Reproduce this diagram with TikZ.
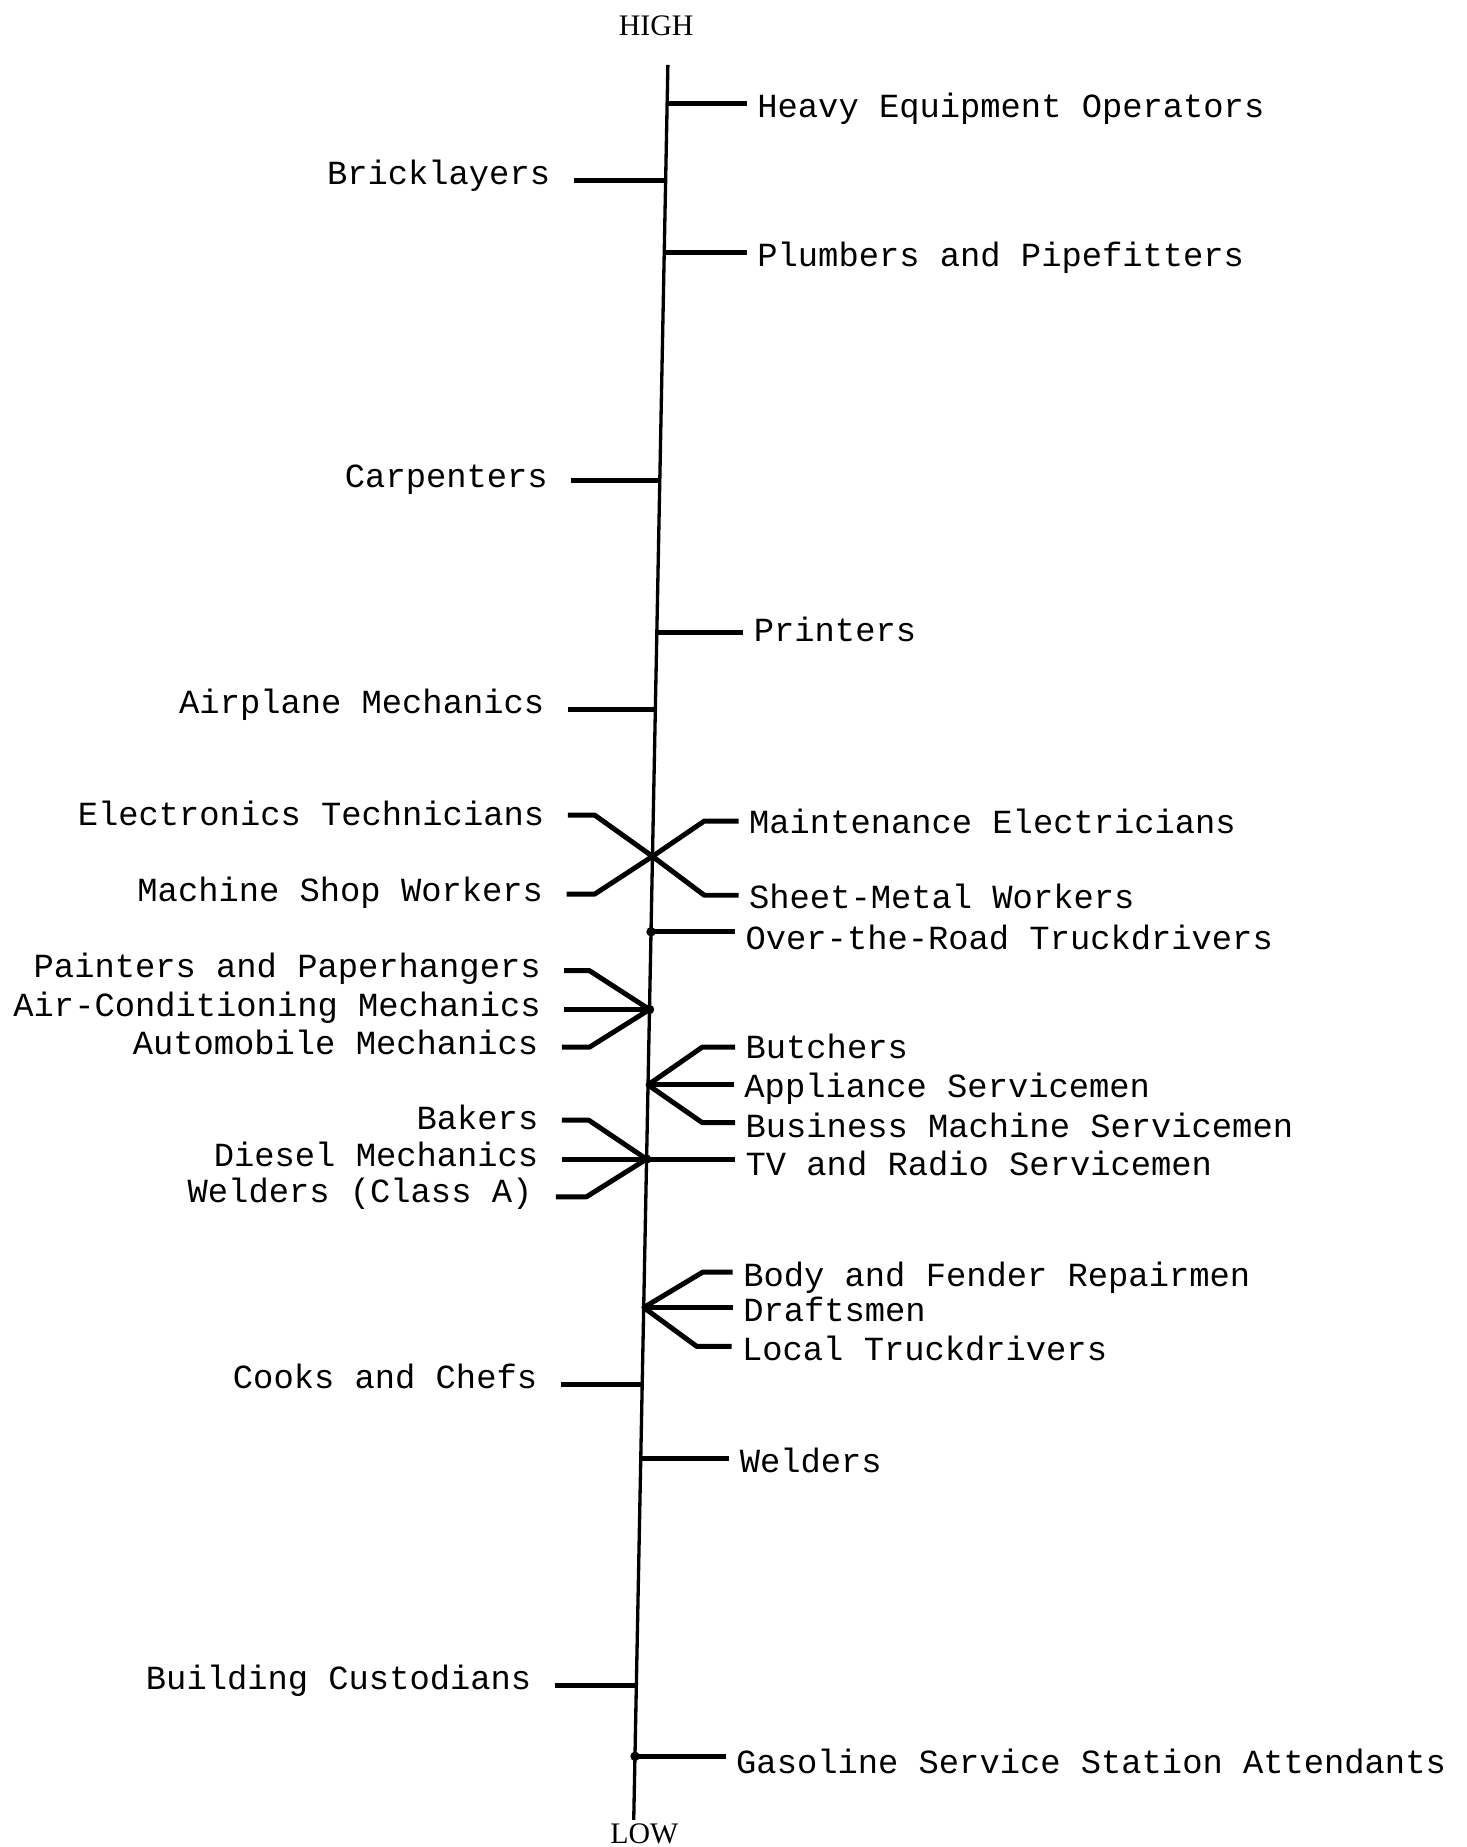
\documentclass[tikz,border=0pt]{standalone}
\usepackage{fontspec}
\setmonofont{Liberation Mono}
\newfontfamily\hlfont{Liberation Serif}
\usetikzlibrary{calc}
\begin{document}
\begin{tikzpicture}[x=0.025cm,y=-0.025cm,
  lab/.style={font=\fontsize{20.4}{24}\selectfont\ttfamily, inner sep=0pt},
  ll/.style={lab, anchor=base east, outer xsep=0.5cm, outer ysep=0pt},
  rl/.style={lab, anchor=base west, outer xsep=0.225cm, outer ysep=0pt},
  endlab/.style={font=\fontsize{18}{20}\selectfont\hlfont, inner sep=0pt},
  axisline/.style={line width=2pt},
  tick/.style={line width=3pt, line join=round},
  jdot/.style={fill=black, draw=none}]
\useasboundingbox (0,0) rectangle (1245,1568);

% ends of the scale
\node[endlab] (high) at (557,22) {HIGH};
\node[endlab] (low) at (547,1557) {LOW};
\coordinate (top) at (567,55);
\coordinate (bot) at (538,1545);
\draw[axisline] (top) -- (bot);

% points on the axis
\coordinate (aHeavy) at (566.4,88);
\coordinate (aBrick) at (565.1,153);
\coordinate (aPlumb) at (563.9,214);
\coordinate (aCarp)  at (560.1,408);
\coordinate (aPrint) at (557.6,537);
\coordinate (aAir)   at (556.4,602);
\coordinate (X)      at (553.9,727);
\coordinate (aOver)  at (552.7,791);
\coordinate (jPaint) at (551.4,857);
\coordinate (jButch) at (550.1,921);
\coordinate (jBak)   at (548.9,984);
\coordinate (jBody)  at (546.5,1110);
\coordinate (aCook)  at (545.2,1175);
\coordinate (aWeld)  at (544.0,1238);
\coordinate (aBuild) at (540.2,1431);
\coordinate (aGas)   at (539.1,1491);

% right labels
\node[rl] (heavy) at (634,100)  {Heavy Equipment Operators};
\node[rl] (plumb) at (634,226)  {Plumbers and Pipefitters};
\node[rl] (print) at (631,545)  {Printers};
\node[rl] (maint) at (627,708)  {Maintenance Electricians};
\node[rl] (sheet) at (627,771)  {Sheet-Metal Workers};
\node[rl] (over)  at (624,806)  {Over-the-Road Truckdrivers};
\node[rl] (butch) at (624,899)  {Butchers};
\node[rl] (appl)  at (623,932)  {Appliance Servicemen};
\node[rl] (busi)  at (624,966)  {Business Machine Servicemen};
\node[rl] (tv)    at (624,998)  {TV and Radio Servicemen};
\node[rl] (body)  at (622,1092) {Body and Fender Repairmen};
\node[rl] (draft) at (622,1122) {Draftsmen};
\node[rl] (local) at (621,1155) {Local Truckdrivers};
\node[rl] (weld)  at (619,1250) {Welders};
\node[rl] (gas)   at (616,1506) {Gasoline Service Station Attendants};

% left labels
\node[ll] (brick)  at (487,157)  {Bricklayers};
\node[ll] (carp)   at (485,414)  {Carpenters};
\node[ll] (air)    at (482,606)  {Airplane Mechanics};
\node[ll] (elec)   at (482,701)  {Electronics Technicians};
\node[ll] (mach)   at (481,765)  {Machine Shop Workers};
\node[ll] (paint)  at (479,830)  {Painters and Paperhangers};
\node[ll] (aircon) at (479,863)  {Air-Conditioning Mechanics};
\node[ll] (auto)   at (477,895)  {Automobile Mechanics};
\node[ll] (bak)    at (477,959)  {Bakers};
\node[ll] (dies)   at (477,990)  {Diesel Mechanics};
\node[ll] (weldA)  at (472,1021) {Welders (Class A)};
\node[ll] (cook)   at (476,1179) {Cooks and Chefs};
\node[ll] (build)  at (471,1434) {Building Custodians};

% straight ticks
\draw[tick] (aHeavy) -- (aHeavy -| heavy.west);
\draw[tick] (aBrick) -- (aBrick -| brick.east);
\draw[tick] (aPlumb) -- (aPlumb -| plumb.west);
\draw[tick] (aCarp)  -- (aCarp -| carp.east);
\draw[tick] (aPrint) -- (aPrint -| print.west);
\draw[tick] (aAir)   -- (aAir -| air.east);
\draw[tick] (aOver)  -- (aOver -| over.west);
\draw[tick] (aCook)  -- (aCook -| cook.east);
\draw[tick] (aWeld)  -- (aWeld -| weld.west);
\draw[tick] (aBuild) -- (aBuild -| build.east);
\draw[tick] (aGas)   -- (aGas -| gas.west);

% the cross
\coordinate (bElec)  at ($(X)+(-49,-35)$);
\coordinate (bSheet) at ($(X)+(44,33)$);
\coordinate (bMach)  at ($(X)+(-49,32)$);
\coordinate (bMaint) at ($(X)+(44,-30)$);
\draw[tick] (bElec -| elec.east) -- (bElec) -- (X) -- (bSheet) -- (bSheet -| sheet.west);
\draw[tick] (bMach -| mach.east) -- (bMach) -- (X) -- (bMaint) -- (bMaint -| maint.west);

% painters fan
\coordinate (bPaint) at ($(jPaint)+(-51,-33)$);
\coordinate (bAuto)  at ($(jPaint)+(-51,32)$);
\draw[tick] (bPaint -| paint.east) -- (bPaint) -- (jPaint) -- (bAuto) -- (bAuto -| auto.east);
\draw[tick] (jPaint -| aircon.east) -- (jPaint);

% butchers fan
\coordinate (bButch) at ($(jButch)+(46,-32)$);
\coordinate (bBusi)  at ($(jButch)+(46,32)$);
\draw[tick] (bButch -| butch.west) -- (bButch) -- (jButch) -- (bBusi) -- (bBusi -| busi.west);
\draw[tick] (jButch) -- (jButch -| appl.west);

% bakers fan
\coordinate (bBak)   at ($(jBak)+(-49,-33)$);
\coordinate (bWeldA) at ($(jBak)+(-51,32)$);
\draw[tick] (bBak -| bak.east) -- (bBak) -- (jBak) -- (bWeldA) -- (bWeldA -| weldA.east);
\draw[tick] (jBak -| dies.east) -- (jBak) -- (jBak -| tv.west);

% body fan
\coordinate (bBody)  at ($(jBody)+(50,-30)$);
\coordinate (bLocal) at ($(jBody)+(45,33)$);
\draw[tick] (bBody -| body.west) -- (bBody) -- (jBody) -- (bLocal) -- (bLocal -| local.west);
\draw[tick] (jBody) -- (jBody -| draft.west);

% junction dots
\fill[jdot] (aOver) circle (4);
\fill[jdot] (jPaint) circle (4);
\fill[jdot] (jBak) circle (4);
\fill[jdot] (aGas) circle (4);
\end{tikzpicture}
\end{document}
